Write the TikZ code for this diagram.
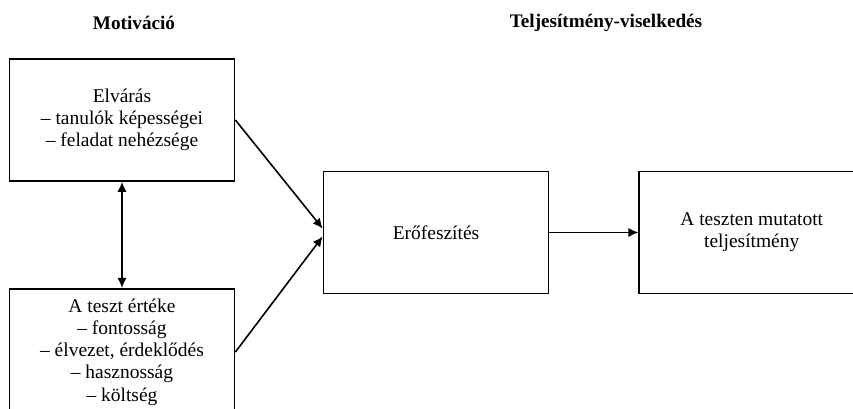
\documentclass[tikz,border=0pt]{standalone}
\usepackage{fontspec}
\setmainfont{Liberation Serif}
\usepackage{tikz}
\usetikzlibrary{positioning, arrows.meta}

\begin{document}
\begin{tikzpicture}[x=0.75pt, y=-0.75pt, node distance=66.75pt, auto, >={Latex[length=7.5pt, width=7pt]}]
    \tikzstyle{factor} = [rectangle, draw, line width=1.3pt, minimum width=168.75pt, minimum height=91.5pt, align=center, font=\fontsize{14.6}{16.6}\selectfont]
    \tikzstyle{heading} = [font=\fontsize{14.4}{16.5}\selectfont\bfseries]
    \tikzstyle{link} = [->, line width=1.2pt]

    \clip (0,0) rectangle (853,409);

    \node[heading] (motivacio) at (134,23) {Motiváció};
    \node[heading] (viselkedes) at (606,23) {Teljesítmény-viselkedés};

    \node[factor] (elvaras) at (122,120) {Elvárás\\– tanulók képességei\\– feladat nehézsége};
    \node[factor, minimum height=95pt, below=79.5pt of elvaras] (ertek) {A teszt értéke\\– fontosság\\– élvezet, érdeklődés\\– hasznosság\\– költség};
    \node[factor] (erofeszites) at (436,232.5) {Erőfeszítés};
    \node[factor, right=of erofeszites] (teljesitmeny) {A teszten mutatott\\teljesítmény};

    \draw[<->, line width=1.2pt] (elvaras) -- (ertek);
    \draw[link] (elvaras.east) -- ([yshift=3pt]erofeszites.west);
    \draw[link] (ertek.east) -- ([yshift=-3pt]erofeszites.west);
    \draw[link] (erofeszites) -- (teljesitmeny);
\end{tikzpicture}
\end{document}
